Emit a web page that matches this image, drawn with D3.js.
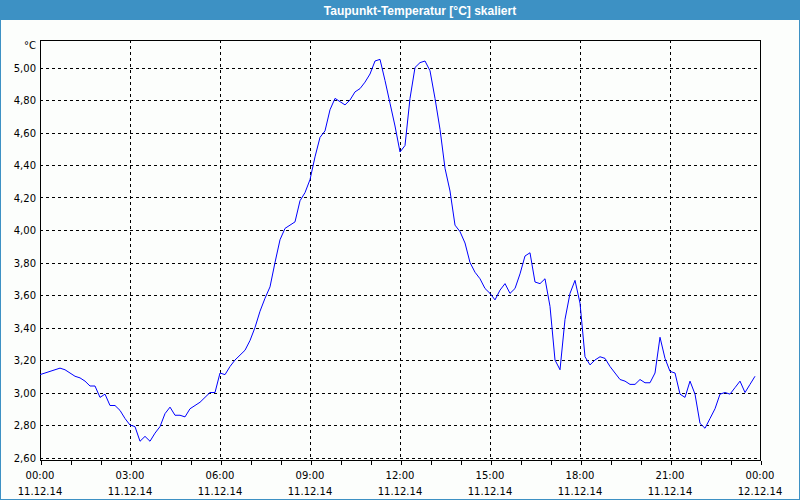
<!DOCTYPE html>
<html><head><meta charset="utf-8">
<script src="https://cdn.jsdelivr.net/npm/d3@7"></script>
<style>
html,body{margin:0;padding:0;background:#fcfefc;}
svg{display:block;}
</style></head>
<body>
<svg id="chart" width="800" height="500"></svg>
<script>
const title = "Taupunkt-Temperatur [°C] skaliert";
const unitLabel = "°C";
// minutes since 11.12.14 00:00
const minutes = [0,10,20,30,40,50,60,70,80,90,100,110,120,130,140,150,160,170,180,190,200,210,220,230,240,250,260,270,280,290,300,310,320,330,340,350,360,370,380,390,400,410,420,430,440,450,460,470,480,490,500,510,520,530,540,550,560,570,580,590,600,610,620,630,640,650,660,670,680,690,700,710,720,730,740,750,760,770,780,790,800,810,820,830,840,850,860,870,880,890,900,910,920,930,940,950,960,970,980,990,1000,1010,1020,1030,1040,1050,1060,1070,1080,1090,1100,1110,1120,1130,1140,1150,1160,1170,1180,1190,1200,1210,1220,1230,1240,1250,1260,1270,1280,1290,1300,1310,1320,1330,1340,1350,1360,1370,1380,1390,1400,1410,1420,1430];
const dewpoint = [3.11,3.12,3.13,3.14,3.15,3.14,3.12,3.10,3.09,3.07,3.04,3.04,2.97,2.99,2.92,2.92,2.89,2.84,2.80,2.79,2.70,2.73,2.70,2.75,2.79,2.87,2.91,2.86,2.86,2.85,2.90,2.92,2.94,2.97,3.00,3.00,3.12,3.11,3.16,3.20,3.23,3.26,3.32,3.40,3.50,3.58,3.65,3.80,3.94,4.01,4.03,4.05,4.18,4.23,4.31,4.45,4.57,4.61,4.74,4.81,4.79,4.77,4.80,4.85,4.87,4.91,4.96,5.04,5.05,4.92,4.78,4.64,4.48,4.52,4.81,5.00,5.03,5.04,4.98,4.81,4.62,4.38,4.24,4.03,3.99,3.92,3.80,3.74,3.70,3.64,3.61,3.57,3.63,3.67,3.61,3.64,3.73,3.84,3.86,3.68,3.67,3.70,3.53,3.20,3.14,3.45,3.61,3.69,3.55,3.22,3.17,3.20,3.22,3.21,3.16,3.12,3.08,3.07,3.05,3.05,3.08,3.06,3.06,3.12,3.34,3.21,3.13,3.12,2.99,2.97,3.07,2.99,2.81,2.78,2.84,2.90,2.99,3.00,2.99,3.03,3.07,3.00,3.05,3.10];
const yTicks = [2.6,2.8,3.0,3.2,3.4,3.6,3.8,4.0,4.2,4.4,4.6,4.8,5.0];
const xTickLabels = ["00:00","03:00","06:00","09:00","12:00","15:00","18:00","21:00","00:00"];
const xDateLabels = ["11.12.14","11.12.14","11.12.14","11.12.14","11.12.14","11.12.14","11.12.14","11.12.14","12.12.14"];

const svg = d3.select("#chart");
const W = 800, H = 500;
const L = 40, R = 760, T = 40, B = 460;
const blue = "#3d91c4";

svg.append("rect").attr("x",0).attr("y",0).attr("width",W).attr("height",H).attr("fill","#fcfefc");
// title bar
svg.append("rect").attr("x",0).attr("y",0).attr("width",W).attr("height",20).attr("fill",blue);
svg.append("text").attr("x",420).attr("y",14.5).attr("text-anchor","middle")
  .attr("font-family","Liberation Sans, Arial, sans-serif").attr("font-weight","bold")
  .attr("font-size",12).attr("fill","#ffffff").text(title);
// window border
svg.append("rect").attr("x",0.5).attr("y",0.5).attr("width",W-1).attr("height",H-1)
  .attr("fill","none").attr("stroke",blue).attr("stroke-width",1);

const x = d3.scaleLinear().domain([0,1440]).range([L,R]);
const y = d3.scaleLinear().domain([2.6,5.0]).range([457.5,67.5]);

const font = "DejaVu Sans, Verdana, sans-serif";
const g = svg.append("g").attr("shape-rendering","crispEdges");

// horizontal grid
g.selectAll("line.hg").data(yTicks).join("line")
  .attr("x1",L).attr("x2",R)
  .attr("y1",d=>Math.round(y(d))+0.5).attr("y2",d=>Math.round(y(d))+0.5)
  .attr("stroke","#000").attr("stroke-dasharray","3,3");
// vertical grid every 3h
const vMin = d3.range(180,1440,180);
g.selectAll("line.vg").data(vMin).join("line")
  .attr("x1",d=>Math.round(x(d))+0.5).attr("x2",d=>Math.round(x(d))+0.5)
  .attr("y1",T).attr("y2",B)
  .attr("stroke","#000").attr("stroke-dasharray","3,3");

// frame
g.append("rect").attr("x",L+0.5).attr("y",T+0.5).attr("width",R-L).attr("height",B-T)
  .attr("fill","none").attr("stroke","#000");

// bottom axis via d3
const xAxis = d3.axisBottom(x).tickValues(d3.range(0,1441,60)).tickSize(4).tickFormat("");
const ax = svg.append("g").attr("transform",`translate(0.5,${B+0.5})`).call(xAxis);
ax.select(".domain").remove();
ax.selectAll("line").attr("stroke","#000").attr("shape-rendering","crispEdges");

// x labels
const majors = d3.range(0,1441,180);
svg.selectAll("text.xt").data(majors).join("text")
  .attr("x",d=>x(d)).attr("y",479).attr("text-anchor","middle")
  .attr("font-family",font).attr("font-size",10).attr("fill","#000")
  .text((d,i)=>xTickLabels[i]);
svg.selectAll("text.xd").data(majors).join("text")
  .attr("x",d=>x(d)).attr("y",495).attr("text-anchor","middle")
  .attr("font-family",font).attr("font-size",10).attr("fill","#000")
  .text((d,i)=>xDateLabels[i]);

// y labels
svg.selectAll("text.yt").data(yTicks).join("text")
  .attr("x",36).attr("y",d=>y(d)+4).attr("text-anchor","end")
  .attr("font-family",font).attr("font-size",10).attr("fill","#000")
  .text(d=>d3.format(".2f")(d).replace(".",","));
svg.append("text").attr("x",36).attr("y",49).attr("text-anchor","end")
  .attr("font-family",font).attr("font-size",10).attr("fill","#000").text(unitLabel);

// data line
const data = minutes.map((m,i)=>({m, v:dewpoint[i]}));
svg.append("path").datum(data)
  .attr("d", d3.line().x(d=>x(d.m)).y(d=>y(d.v)))
  .attr("fill","none").attr("stroke","#0000ff").attr("stroke-width",1);
</script>
</body></html>
